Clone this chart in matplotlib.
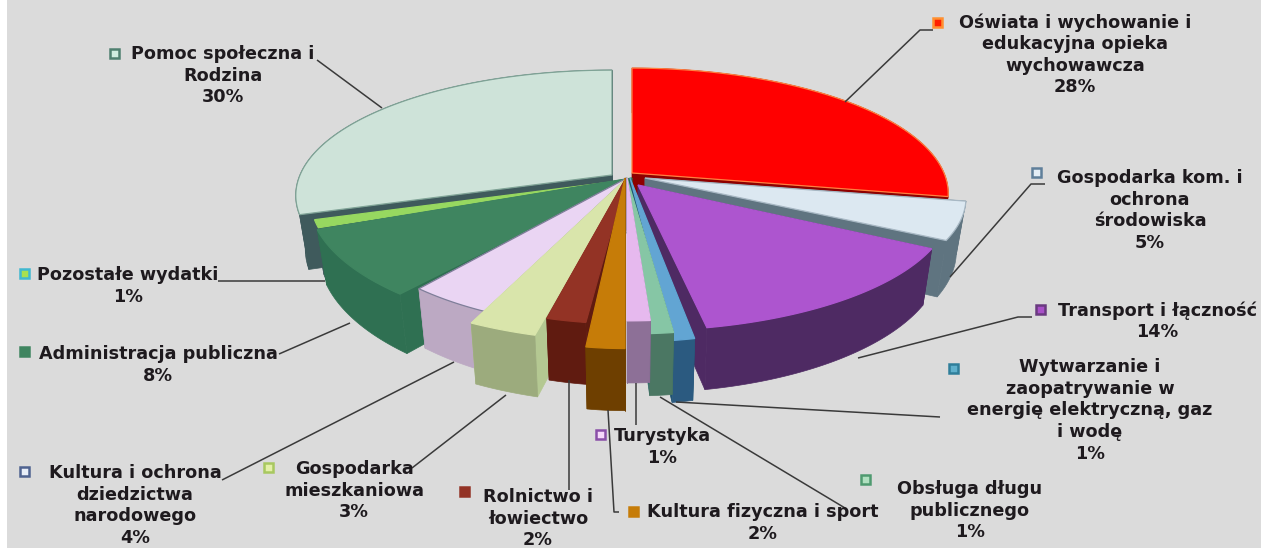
import numpy as np
import matplotlib
matplotlib.use("Agg")
import matplotlib.pyplot as plt
from matplotlib.patches import Polygon, Rectangle

# ---- data (clockwise from 12 o'clock) ----
categories = [
    "Oświata i wychowanie i\nedukacyjna opieka\nwychowawcza",
    "Gospodarka kom. i\nochrona\nśrodowiska",
    "Transport i łączność",
    "Wytwarzanie i\nzaopatrywanie w\nenergię elektryczną, gaz\ni wodę",
    "Obsługa długu\npublicznego",
    "Turystyka",
    "Kultura fizyczna i sport",
    "Rolnictwo i\nłowiectwo",
    "Gospodarka\nmieszkaniowa",
    "Kultura i ochrona\ndziedzictwa\nnarodowego",
    "Administracja publiczna",
    "Pozostałe wydatki",
    "Pomoc społeczna i\nRodzina",
]
values = [28, 5, 14, 1, 1, 1, 2, 2, 3, 4, 8, 1, 30]

# ---- styles ----
top_colors = ["#FF0000", "#DCE8F1", "#AD55CF", "#62A5D3", "#86C6A5", "#E6B9EE", "#C67C08",
              "#933325", "#D9E5AB", "#EAD5F3", "#3F8560", "#97D860", "#CEE3D9"]
wall_colors = ["#8E0000", "#5F7480", "#4E2A63", "#2B5A80", "#4B7763", "#8D7097", "#6E3F00",
               "#601B10", "#9CAB7D", "#BCA9C3", "#2F7052", "#3F5A5C", "#3F5A5C"]
side_colors = ["#8E0000", "#5F7480", "#4E2A63", "#1F5570", "#2F6A66", "#6F5A80", "#6E3F00",
               "#601B10", "#B4C892", "#8C7F96", "#2F7052", "#3F5A5C", "#3F5A5C"]
edge_colors = ["#FF8040", "#A8B8C4", "#AD55CF", "#62A5D3", "#86C6A5", "#E6B9EE", "#C67C08",
               "#933325", "#D9E5AB", "#7F7F9A", "#3F8560", "#97D860", "#7FA396"]
marker_face = ["#FF2000", "#E4EEF6", "#A850C8", "#5FB0CC", "#B0E0C0", "#F6D8FA", "#C67C08",
               "#933325", "#E4F0A8", "#E8EEF8", "#3F8560", "#A8E050", "#D0EDE0"]
marker_edge = ["#FF9030", "#5F7F9A", "#6A3A80", "#2F7E9A", "#4F9A70", "#8A4FA8", "#C67C08",
               "#933325", "#A8C860", "#4F6390", "#3F8560", "#40B8D0", "#4F8070"]

# slice placement on the canvas (pixels): apex, stretch of the disc
apex_x = [632, 645, 638, 630, 627, 627, 625, 626, 627, 627, 632, 627, 612]
apex_y = [173, 178, 185, 178, 178, 178, 178, 178, 178, 178, 178, 180, 175]
stretch_x = [1, 1.015, .99, .93, 1, 1, .84, .86, 1, .915, 1.02, 1, 1]
stretch_y = [1, .98, 1, 1.125, 1.07, .98, 1.17, 1.0, 1.12, 1.03, 1.08, 1, 1]
paint_order = [12, 0, 11, 1, 10, 2, 9, 8, 7, 3, 4, 5, 6]

RX, RY, PERSP, DEPTH, TAPER = 312, 122, .163, 52, .97

# label layout: marker centre, text anchor x, first line y
marker_xy = [(937, 22), (1036, 172), (1040, 309), (953, 368), (865, 479), (600, 434), (633, 511),
             (464, 491), (268, 467), (24, 471), (24, 351), (24, 273), (114, 53)]
label_x = [1075, 1150, 1157, 1090, 970, 662, 763, 538, 354, 135, 158, 128, 223]
label_y = [22, 178, 310, 367, 489, 436, 512, 497, 469, 473, 354, 275, 54]
leaders = [
    [(933, 30), (920, 30), (845, 102)],
    [(1045, 184), (1031, 184), (950, 277)],
    [(1032, 317), (1018, 317), (858, 358)],
    [(676, 402), (940, 417)],
    [(660, 397), (845, 508)],
    [(636, 383), (636, 425)],
    [(608, 410), (614, 512), (619, 512)],
    [(569, 380), (569, 490)],
    [(506, 395), (412, 468)],
    [(454, 362), (222, 480)],
    [(350, 323), (279, 354)],
    [(218, 281), (325, 281)],
    [(317, 60), (382, 108)],
]

fig = plt.figure(figsize=(12.61, 5.48), dpi=100, facecolor="#DBDBDB")
ax = fig.add_axes([0, 0, 1, 1])
ax.set_xlim(0, 1261)
ax.set_ylim(548, 0)
ax.axis("off")
ax.add_patch(Rectangle((0, 0), 7, 548, fc="white", ec="none", zorder=0))


def project(theta, i):
    """Perspective view of the unit disc; theta clockwise from 12 o'clock, degrees."""
    t = np.radians(theta)
    u, v = np.sin(t), np.cos(t)
    s = 1 / (1 + PERSP * v)
    x = apex_x[i] + RX * u * s * stretch_x[i]
    y = apex_y[i] - RY * v * s * stretch_y[i]
    return x, y, s


def lower(x, y, s, i):
    return apex_x[i] + (x - apex_x[i]) * TAPER, y + DEPTH * s


edges = np.cumsum([0] + values) * 3.6
z = 2
for i in paint_order:
    th = np.linspace(edges[i], edges[i + 1], max(3, int(values[i] * 8)))
    x, y, s = project(th, i)
    bx, by = lower(x, y, s, i)
    a = (apex_x[i], apex_y[i])
    ab = (apex_x[i], apex_y[i] + DEPTH)
    # radial walls
    for j in (0, -1):
        ax.add_patch(Polygon([a, (x[j], y[j]), (bx[j], by[j]), ab], fc=side_colors[i],
                             ec=side_colors[i], lw=.5, zorder=z))
    # outer wall
    ax.add_patch(Polygon(np.r_[np.c_[x, y], np.c_[bx, by][::-1]], fc=wall_colors[i],
                         ec=wall_colors[i], lw=.5, zorder=z))
    # top face
    ax.add_patch(Polygon(np.r_[[a], np.c_[x, y]], fc=top_colors[i], ec=edge_colors[i],
                         lw=.9, zorder=z + .5))
    z += 1

for pts in leaders:
    p = np.array(pts)
    ax.plot(p[:, 0], p[:, 1], color="#3A3A3A", lw=1.1, zorder=40, solid_capstyle="butt")

for i, c in enumerate(categories):
    mx, my = marker_xy[i]
    ax.add_patch(Rectangle((mx - 4.5, my - 4.5), 9, 9, fc=marker_face[i], ec=marker_edge[i],
                           lw=1.8, zorder=45))
    ax.text(label_x[i], label_y[i] - 9, f"{c}\n{values[i]}%", ha="center", va="top",
            multialignment="center", family="DejaVu Sans", weight="bold", fontsize=12.7,
            color="#1E1A1E", linespacing=1.26, zorder=50)

fig.savefig("out.png", dpi=100, facecolor=fig.get_facecolor())
